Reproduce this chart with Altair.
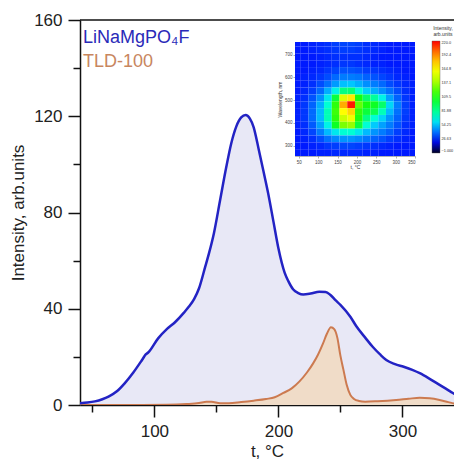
import altair as alt
import pandas as pd

# ---- main curves ----
t_blue = [40, 46, 52, 58, 63, 70, 76, 83, 90, 93, 95, 103, 110, 117, 124, 128, 132, 136, 141, 144,
          148, 153, 158, 162, 166, 170, 173.6, 177, 180, 184, 188, 192, 196, 200, 205, 208, 212, 216, 220, 226,
          233, 238, 242, 246, 250, 258, 263, 270, 276, 282, 287, 294, 301, 308, 314, 321, 328, 335, 341, 350]
v_blue = [0.7, 1.0, 1.5, 2.4, 3.5, 5.8, 9, 13.5, 18.7, 21, 21.8, 27.7, 31.5, 34.6, 38.5, 41, 44, 48.5, 57.5, 63,
          71.4, 85.2, 99, 108.8, 115.7, 119.5, 120.5, 119, 115.5, 106.5, 97, 87.3, 76.2, 65.1, 55, 51.5, 48, 46.5, 45.9, 46.3,
          47.1, 47, 45.7, 43.6, 41.6, 36.7, 32.6, 28, 24.2, 21, 18.7, 17, 15.9, 14.6, 13.2, 11.2, 9, 6.8, 4.9, 2.3]

t_tld = [40, 80, 110, 126, 136, 142, 146, 153, 160, 170, 180, 190, 197, 204, 211, 217, 223, 228, 232, 236,
         239, 242.4, 245, 247.5, 250, 252.5, 255, 258, 261, 265, 270, 280, 295, 305, 314, 322, 330, 337, 344, 350]
v_tld = [0, 0, 0.1, 0.4, 0.8, 1.3, 1.3, 0.7, 0.7, 1.2, 1.8, 2.5, 3.2, 5.0, 7.0, 9.8, 13.5, 17.3, 21, 25.6,
         29.5, 32.3, 31.5, 28, 20.5, 14.5, 8.5, 4.2, 2.5, 1.7, 1.4, 1.6, 2.1, 2.6, 3.0, 2.8, 2.1, 1.2, 0.4, 0.1]

x_ticks = [50, 100, 150, 200, 250, 300]
y_ticks = [0, 20, 40, 60, 80, 100, 120, 140, 160]

# ---- inset map (temperature x wavelength) ----
inset_t = [45, 65, 85, 105, 125, 145, 165, 185, 205, 225, 245, 265, 285, 305, 325, 345]
inset_wl = [750, 720, 690, 660, 630, 600, 570, 540, 510, 480, 450, 420, 390, 360, 330, 300, 270]
inset_vals = [
    [28, 28, 29, 30, 31, 33, 34, 34, 33, 31, 30, 29, 28, 28, 28, 28],
    [28, 28, 29, 30, 31, 32, 33, 33, 32, 31, 30, 29, 28, 28, 28, 28],
    [28, 28, 28, 29, 30, 31, 31, 31, 31, 30, 29, 28, 28, 28, 28, 28],
    [28, 28, 28, 29, 30, 31, 32, 32, 31, 30, 29, 29, 28, 28, 28, 28],
    [28, 28, 29, 30, 32, 34, 36, 36, 35, 33, 32, 31, 30, 29, 28, 28],
    [28, 29, 30, 32, 35, 39, 42, 42, 41, 38, 36, 34, 32, 30, 29, 28],
    [28, 29, 31, 35, 40, 47, 53, 54, 50, 45, 42, 39, 35, 32, 30, 29],
    [28, 30, 33, 39, 50, 65, 85, 88, 70, 56, 50, 45, 40, 35, 31, 29],
    [29, 31, 36, 45, 62, 100, 155, 170, 110, 90, 80, 65, 48, 38, 32, 29],
    [29, 32, 38, 50, 70, 115, 185, 215, 125, 110, 105, 90, 58, 42, 33, 29],
    [29, 32, 39, 52, 75, 118, 165, 175, 115, 100, 95, 75, 52, 40, 33, 29],
    [29, 32, 39, 52, 75, 115, 150, 160, 112, 85, 70, 57, 46, 38, 32, 29],
    [29, 31, 37, 48, 65, 105, 130, 135, 100, 70, 55, 48, 42, 36, 31, 29],
    [28, 30, 34, 42, 52, 62, 70, 70, 62, 52, 46, 42, 38, 33, 30, 28],
    [28, 29, 31, 35, 40, 44, 46, 46, 44, 41, 38, 36, 33, 31, 29, 28],
    [28, 28, 29, 30, 32, 33, 34, 34, 33, 32, 31, 30, 29, 28, 28, 28],
    [28, 28, 28, 29, 29, 30, 30, 30, 30, 29, 29, 28, 28, 28, 28, 28],
]
inset_x_ticks = [50, 100, 150, 200, 250, 300, 350]
inset_y_ticks = [300, 400, 500, 600, 700]
cbar_values = [-1.0, 26.63, 54.25, 81.88, 109.5, 137.1, 164.8, 192.4, 220.0]
color_domain = [-1, 10, 26.63, 40, 54.25, 68, 81.88, 109.5, 137.1, 164.8, 192.4, 220]
color_range = ['#000020', '#0000b0', '#0010ff', '#0070ff', '#00c8ff', '#00ffe0', '#00ff90',
               '#10ff10', '#a0ff00', '#ffff00', '#ff9000', '#ff0000']

FONT = "Liberation Sans"

df_blue = pd.DataFrame({"t": t_blue, "v": v_blue})
df_tld = pd.DataFrame({"t": t_tld, "v": v_tld})
rows = []
for i, wl in enumerate(inset_wl):
    for j, t in enumerate(inset_t):
        rows.append({"t": t, "wl": wl, "val": inset_vals[i][j]})
df_map = pd.DataFrame(rows)

# the page is 462 px wide; the reference crops the axis at ~350 °C, here it ends at the page edge
xs = alt.Scale(domain=[40, 341.6], nice=False, zero=False)
ys = alt.Scale(domain=[0, 160], nice=False)

x_axis = alt.Axis(
    values=x_ticks, title="t, °C", grid=False,
    labelExpr="datum.value % 100 === 0 ? datum.label : ''",
    tickSize={"condition": {"test": "datum.value % 100 === 0", "value": 12}, "value": 7},
    labelFont=FONT, labelFontSize=17, labelColor="#222", labelPadding=6,
    titleFont=FONT, titleFontSize=17, titleFontWeight="normal", titleColor="#222", titlePadding=4,
    domainColor="#111", domainWidth=1.5, tickColor="#111", tickWidth=1.5,
)
y_axis = alt.Axis(
    values=y_ticks, title="Intensity, arb.units", grid=False,
    labelExpr="datum.value % 40 === 0 ? datum.label : ''",
    tickSize={"condition": {"test": "datum.value % 40 === 0", "value": 12}, "value": 7},
    labelFont=FONT, labelFontSize=17, labelColor="#222", labelPadding=6,
    titleFont=FONT, titleFontSize=17, titleFontWeight="normal", titleColor="#222", titlePadding=6,
    domainColor="#111", domainWidth=1.5, tickColor="#111", tickWidth=1.5,
)

blue_area = alt.Chart(df_blue).mark_area(color="#e8e8f6", interpolate="monotone", clip=True).encode(
    x=alt.X("t:Q", scale=xs, axis=x_axis), y=alt.Y("v:Q", scale=ys, axis=y_axis))
tld_area = alt.Chart(df_tld).mark_area(color="#f0dcc8", interpolate="monotone", clip=True).encode(
    x=alt.X("t:Q", scale=xs), y=alt.Y("v:Q", scale=ys))
tld_line = alt.Chart(df_tld).mark_line(color="#cc7a50", strokeWidth=2, interpolate="monotone", clip=True).encode(
    x=alt.X("t:Q", scale=xs), y=alt.Y("v:Q", scale=ys))
blue_line = alt.Chart(df_blue).mark_line(color="#2323c4", strokeWidth=2.5, interpolate="monotone", clip=True).encode(
    x=alt.X("t:Q", scale=xs), y=alt.Y("v:Q", scale=ys))
top_rule = alt.Chart(pd.DataFrame({"y": [160]})).mark_rule(color="#111", strokeWidth=1.5).encode(
    y=alt.Y("y:Q", scale=ys))

txt1 = alt.Chart(pd.DataFrame({"s": ["LiNaMgPO₄F"]})).mark_text(
    align="left", baseline="alphabetic", font=FONT, fontSize=18, color="#2a2ab8").encode(
    x=alt.value(3), y=alt.value(23), text="s:N")
txt2 = alt.Chart(pd.DataFrame({"s": ["TLD-100"]})).mark_text(
    align="left", baseline="alphabetic", font=FONT, fontSize=18, color="#c8865e").encode(
    x=alt.value(3), y=alt.value(47), text="s:N")

main = alt.layer(blue_area, tld_area, tld_line, blue_line, top_rule, txt1, txt2)

cscale = alt.Scale(domain=color_domain, range=color_range, interpolate="rgb")
inset = alt.Chart(df_map).transform_calculate(
    x0="datum.t - 10", x1="datum.t + 10", y0="datum.wl - 15", y1="datum.wl + 15"
).mark_rect().encode(
    x=alt.X("x0:Q", scale=alt.Scale(domain=[40, 350], range=[215, 335], clamp=True, nice=False, zero=False),
            axis=alt.Axis(orient="bottom", offset=-249, values=inset_x_ticks, title="t, °C", grid=False,
                          labelFont=FONT, labelFontSize=4.5, labelColor="#444", labelPadding=1,
                          tickSize=2, tickColor="#666", tickWidth=0.5, domainColor="#666", domainWidth=0.5,
                          titleFont=FONT, titleFontSize=5, titleFontWeight="normal", titleColor="#333",
                          titlePadding=1)),
    x2="x1:Q",
    y=alt.Y("y0:Q", scale=alt.Scale(domain=[255, 755], range=[136, 22], clamp=True, nice=False, zero=False),
            axis=alt.Axis(orient="left", offset=-215, values=inset_y_ticks, title="Wavelength, nm", grid=False,
                          labelFont=FONT, labelFontSize=4.5, labelColor="#444", labelPadding=1,
                          tickSize=2, tickColor="#666", tickWidth=0.5, domainColor="#666", domainWidth=0.5,
                          titleFont=FONT, titleFontSize=5, titleFontWeight="normal", titleColor="#333",
                          titlePadding=2)),
    y2="y1:Q",
    color=alt.Color("val:Q", scale=cscale, legend=alt.Legend(
        orient="none", legendX=352, legendY=6, direction="vertical", padding=0, type="gradient",
        gradientLength=112, gradientThickness=8, gradientStrokeColor="#555", gradientStrokeWidth=0.4,
        values=cbar_values, format=".4r",
        labelFont=FONT, labelFontSize=3.8, labelColor="#333", labelOffset=1.5,
        title=["Intensity,", "arb.units"], titleFont=FONT, titleFontSize=5, titleFontWeight="normal",
        titleColor="#333", titleLineHeight=6, titlePadding=4, titleAnchor="middle", titleAlign="center")),
)

chart = alt.layer(main, inset).resolve_scale(
    x="independent", y="independent"
).resolve_axis(x="independent", y="independent").properties(
    width=374, height=385,
    autosize=alt.AutoSizeParams(type="none"),
    padding={"left": 72, "top": 12, "right": 0, "bottom": 60},
).configure_view(stroke=None)

chart.save("out.html", embed_options={"renderer": "svg", "actions": False})
